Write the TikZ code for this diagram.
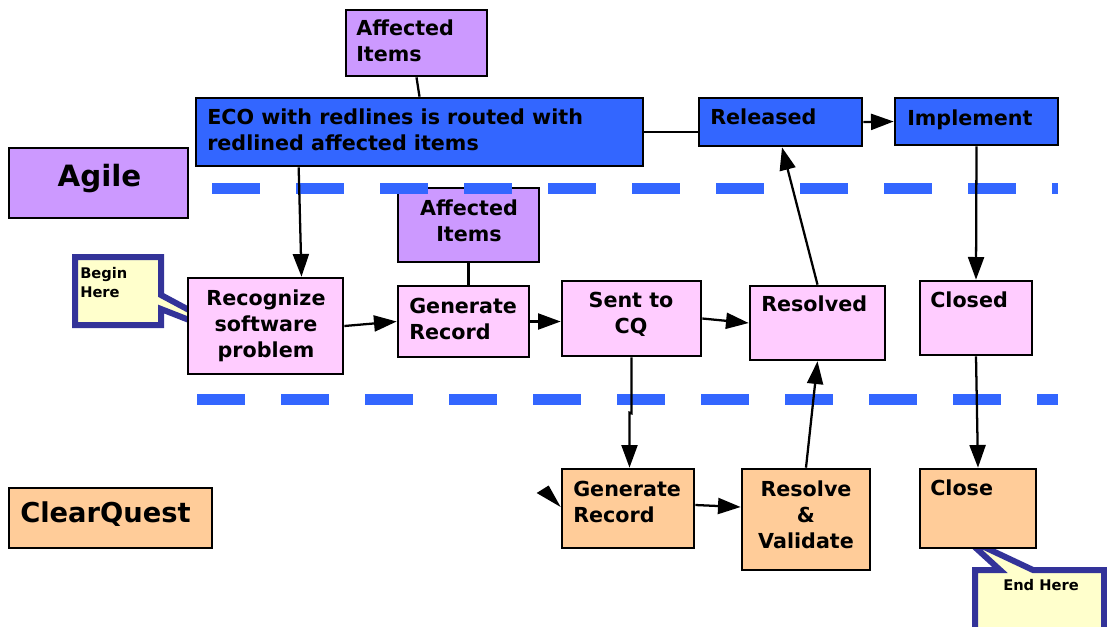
\documentclass[tikz,border=0pt]{standalone}
\usepackage{fontspec}
\setmainfont{DejaVu Sans}
\usetikzlibrary{arrows.meta,calc}
\definecolor{ablue}{HTML}{3366FF}
\definecolor{apurple}{HTML}{CC99FF}
\definecolor{apink}{HTML}{FFCCFF}
\definecolor{aorange}{HTML}{FFCC99}
\definecolor{cfill}{HTML}{FFFFCC}
\definecolor{cborder}{HTML}{333399}
\tikzset{
  box/.style={draw=black, line width=2pt, inner sep=0pt, rectangle},
  bluebox/.style={box, fill=ablue},
  purplebox/.style={box, fill=apurple},
  pinkbox/.style={box, fill=apink},
  orangebox/.style={box, fill=aorange},
  txt/.style={inner sep=0pt, font=\fontsize{15.5}{19.5}\selectfont\bfseries},
  smalltxt/.style={inner sep=0pt, font=\fontsize{11}{14.25}\selectfont\bfseries, align=left},
  conn/.style={line width=1.7pt, draw=black},
  arr/.style={conn, -{Triangle[length=17pt,width=12pt]}},
  sepline/.style={draw=ablue, line width=8.25pt, dash pattern=on 36pt off 27pt},
  callout/.style={draw=cborder, fill=cfill, line width=4.5pt, line join=miter}
}
\begin{document}
\begin{tikzpicture}[x=0.75pt,y=-0.75pt]
\useasboundingbox (0,0) rectangle (1107,626);

% callouts (behind boxes)
\draw[callout] (75,257) -- (161,257) -- (161,295) -- (258,347) -- (161,309) -- (161,325) -- (75,325) -- cycle;
\begin{scope}
\clip (0,0) rectangle (1107,626);
\draw[callout] (975,570) -- (1000,570) -- (965,538) -- (1033,570) -- (1104,570) -- (1104,640) -- (975,640) -- cycle;
\end{scope}

% boxes
\node[purplebox, minimum width=105.75pt, minimum height=49.5pt] (aff1) at (416.5,43) {};
\node[bluebox, minimum width=335.25pt, minimum height=51pt] (eco) at (419.5,132) {};
\node[bluebox, minimum width=122.25pt, minimum height=36pt] (rel) at (780.5,122) {};
\node[bluebox, minimum width=122.25pt, minimum height=35.25pt] (imp) at (976.5,121.5) {};
\node[purplebox, minimum width=134.25pt, minimum height=52.5pt] (agile) at (98.5,183) {};
\node[purplebox, minimum width=105.75pt, minimum height=55.5pt] (aff2) at (468.5,225) {};
\node[pinkbox, minimum width=116.25pt, minimum height=72pt] (rec) at (265.5,326) {};
\node[pinkbox, minimum width=98.25pt, minimum height=53.25pt] (gen1) at (463.5,321.5) {};
\node[pinkbox, minimum width=104.25pt, minimum height=56.25pt] (sent) at (631.5,318.5) {};
\node[pinkbox, minimum width=101.25pt, minimum height=55.5pt] (resd) at (817.5,323) {};
\node[pinkbox, minimum width=84pt, minimum height=55.5pt] (closed) at (976,318) {};
\node[orangebox, minimum width=99pt, minimum height=59.25pt] (gen2) at (628,508.5) {};
\node[orangebox, minimum width=96pt, minimum height=75.75pt] (rv) at (806,519.5) {};
\node[orangebox, minimum width=87pt, minimum height=59.25pt] (close) at (978,508.5) {};
\node[orangebox, minimum width=152.25pt, minimum height=45pt] (cq) at (110.5,518) {};

% texts
\node[txt, align=left, anchor=north west] (aff1t) at (356,20) {Affected\\Items};
\node[txt, align=left, anchor=north west] (ecot) at (207,109) {ECO with redlines is routed with\\redlined affected items};
\node[txt, anchor=north west] (relt) at (710,109) {Released};
\node[txt, anchor=north west] (impt) at (907,110) {Implement};
\node[inner sep=0pt, font=\fontsize{22}{26}\selectfont\bfseries, anchor=base] (agilet) at (99.5,186) {Agile};
\node[txt, align=center, anchor=north] (aff2t) at (469,200) {Affected\\Items};
\node[txt, align=center, anchor=north] (rect) at (266,290) {Recognize\\software\\problem};
\node[txt, align=left, anchor=north west] (gen1t) at (409,298) {Generate\\Record};
\node[txt, align=center, anchor=north] (sentt) at (631,292) {Sent to\\CQ};
\node[txt, anchor=north west] (resdt) at (761,296) {Resolved};
\node[txt, anchor=north west] (closedt) at (930,292) {Closed};
\node[txt, align=left, anchor=north west] (gen2t) at (573,481) {Generate\\Record};
\node[txt, align=center, anchor=north] (rvt) at (806,481) {Resolve\\\&\\Validate};
\node[txt, anchor=north west] (closet) at (930,480) {Close};
\node[inner sep=0pt, font=\fontsize{20.5}{24}\selectfont\bfseries, anchor=base west] (cqt) at (20,522) {ClearQuest};
\node[smalltxt, anchor=north west] (begint) at (80,267) {Begin\\Here};
\node[smalltxt, anchor=north west] (endt) at (1003,579) {End Here};

% lane separators
\draw[sepline] (212,188) -- (1058,188);
\draw[sepline] (197,399) -- (1058,399);

% connectors
\draw[conn] (aff1.south) -- (eco.north);
\draw[conn] (eco.east) -- (eco.east -| rel.west);
\draw[arr] (rel.east) -- (imp.west);
\draw[arr] ($(eco.south west)+(104,0)$) -- ($(rec.north)+(36,0)$);
\draw[conn] (aff2.south) -- (aff2.south |- gen1.north);
\draw[arr] (rec.east) -- (gen1.west);
\draw[arr] (gen1.east) -- (gen1.east -| sent.west);
\draw[arr] (sent.east) -- (resd.west);
\draw[arr] (resd.north) -- ($(rel.south)+(1.5,0)$);
\draw[arr] (imp.south) -- (closed.north);
\draw[arr] (sent.south) -- ($(sent.south)+(0,56)$) -- ($(gen2.north)+(1.5,-55)$) -- ($(gen2.north)+(1.5,0)$);
\draw[arr] ($(gen2.east)+(0,-3.5)$) -- ($(rv.west)+(0,-12.5)$);
\draw[arr] (rv.north) -- (resd.south);
\draw[arr] (closed.south) -- (close.north);
\fill[black] ($(gen2.west)+(-24,-15.5)$) -- ($(gen2.west)+(-12,-23)$) -- ($(gen2.west)+(0,-1.5)$) -- cycle;
\end{tikzpicture}
\end{document}
